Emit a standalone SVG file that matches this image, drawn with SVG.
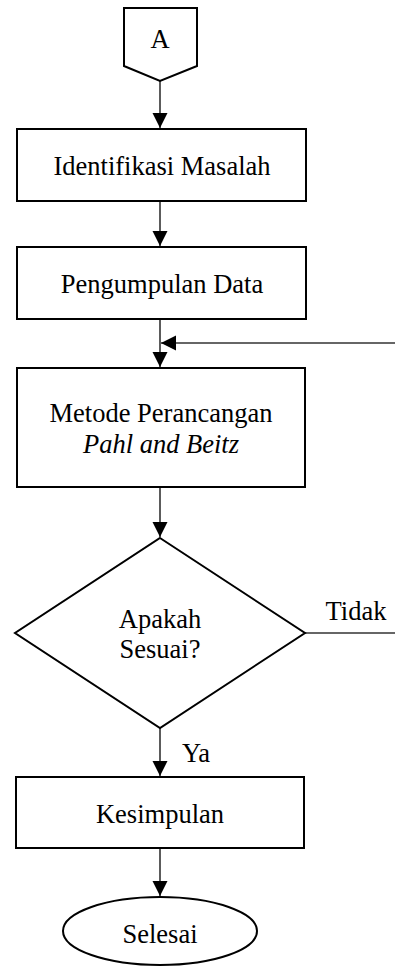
<svg xmlns="http://www.w3.org/2000/svg" width="395" height="967" viewBox="0 0 395 967" font-family="'Liberation Serif', 'Times New Roman', Times, serif">
<defs>
<marker id="ah" markerUnits="userSpaceOnUse" markerWidth="16" markerHeight="16" viewBox="0 0 16 16" refX="15" refY="8" orient="auto">
<path d="M0,0.5 L15,8 L0,15.5 Z" fill="#000"/>
</marker>
<style>
.shape{fill:#fff;stroke:#000;stroke-width:2}
.line{fill:none;stroke:#333;stroke-width:1.6}
text{font-family:'Liberation Serif','Times New Roman',Times,serif;font-size:26.5px;fill:#000;text-anchor:middle}
.it{font-style:italic}
</style>
</defs>
<rect width="395" height="967" fill="#fff"/>
<g id="connectors">
<line class="line" x1="160" y1="81" x2="160" y2="128" marker-end="url(#ah)"/>
<line class="line" x1="160" y1="201" x2="160" y2="246" marker-end="url(#ah)"/>
<line class="line" x1="160" y1="319" x2="160" y2="367" marker-end="url(#ah)"/>
<line class="line" x1="395" y1="343" x2="161" y2="343" marker-end="url(#ah)"/>
<line class="line" x1="160" y1="487" x2="160" y2="537" marker-end="url(#ah)"/>
<line class="line" x1="305" y1="633" x2="395" y2="633"/>
<line class="line" x1="160" y1="728" x2="160" y2="776" marker-end="url(#ah)"/>
<line class="line" x1="160" y1="848" x2="160" y2="896" marker-end="url(#ah)"/>
<text x="356" y="620">Tidak</text>
<text x="196" y="762">Ya</text>
</g>
<g id="start">
<path class="shape" d="M124,8 L197,8 L197,66 L160,81 L124,66 Z"/>
<text x="160" y="48">A</text>
</g>
<g id="identifikasi">
<rect class="shape" x="17" y="129" width="289" height="72"/>
<text x="162" y="175">Identifikasi Masalah</text>
</g>
<g id="pengumpulan">
<rect class="shape" x="17" y="247" width="289" height="72"/>
<text x="162" y="293">Pengumpulan Data</text>
</g>
<g id="metode">
<rect class="shape" x="17" y="368" width="288" height="119"/>
<text x="161" y="422">Metode Perancangan</text>
<text class="it" x="161" y="453">Pahl and Beitz</text>
</g>
<g id="keputusan">
<path class="shape" d="M160,538 L305,633 L160,728 L15,633 Z"/>
<text x="160" y="628">Apakah</text>
<text x="160" y="658">Sesuai?</text>
</g>
<g id="kesimpulan">
<rect class="shape" x="16" y="777" width="288" height="71"/>
<text x="160" y="823">Kesimpulan</text>
</g>
<g id="selesai">
<ellipse class="shape" cx="160" cy="931" rx="97" ry="34"/>
<text x="160" y="943">Selesai</text>
</g>
</svg>
